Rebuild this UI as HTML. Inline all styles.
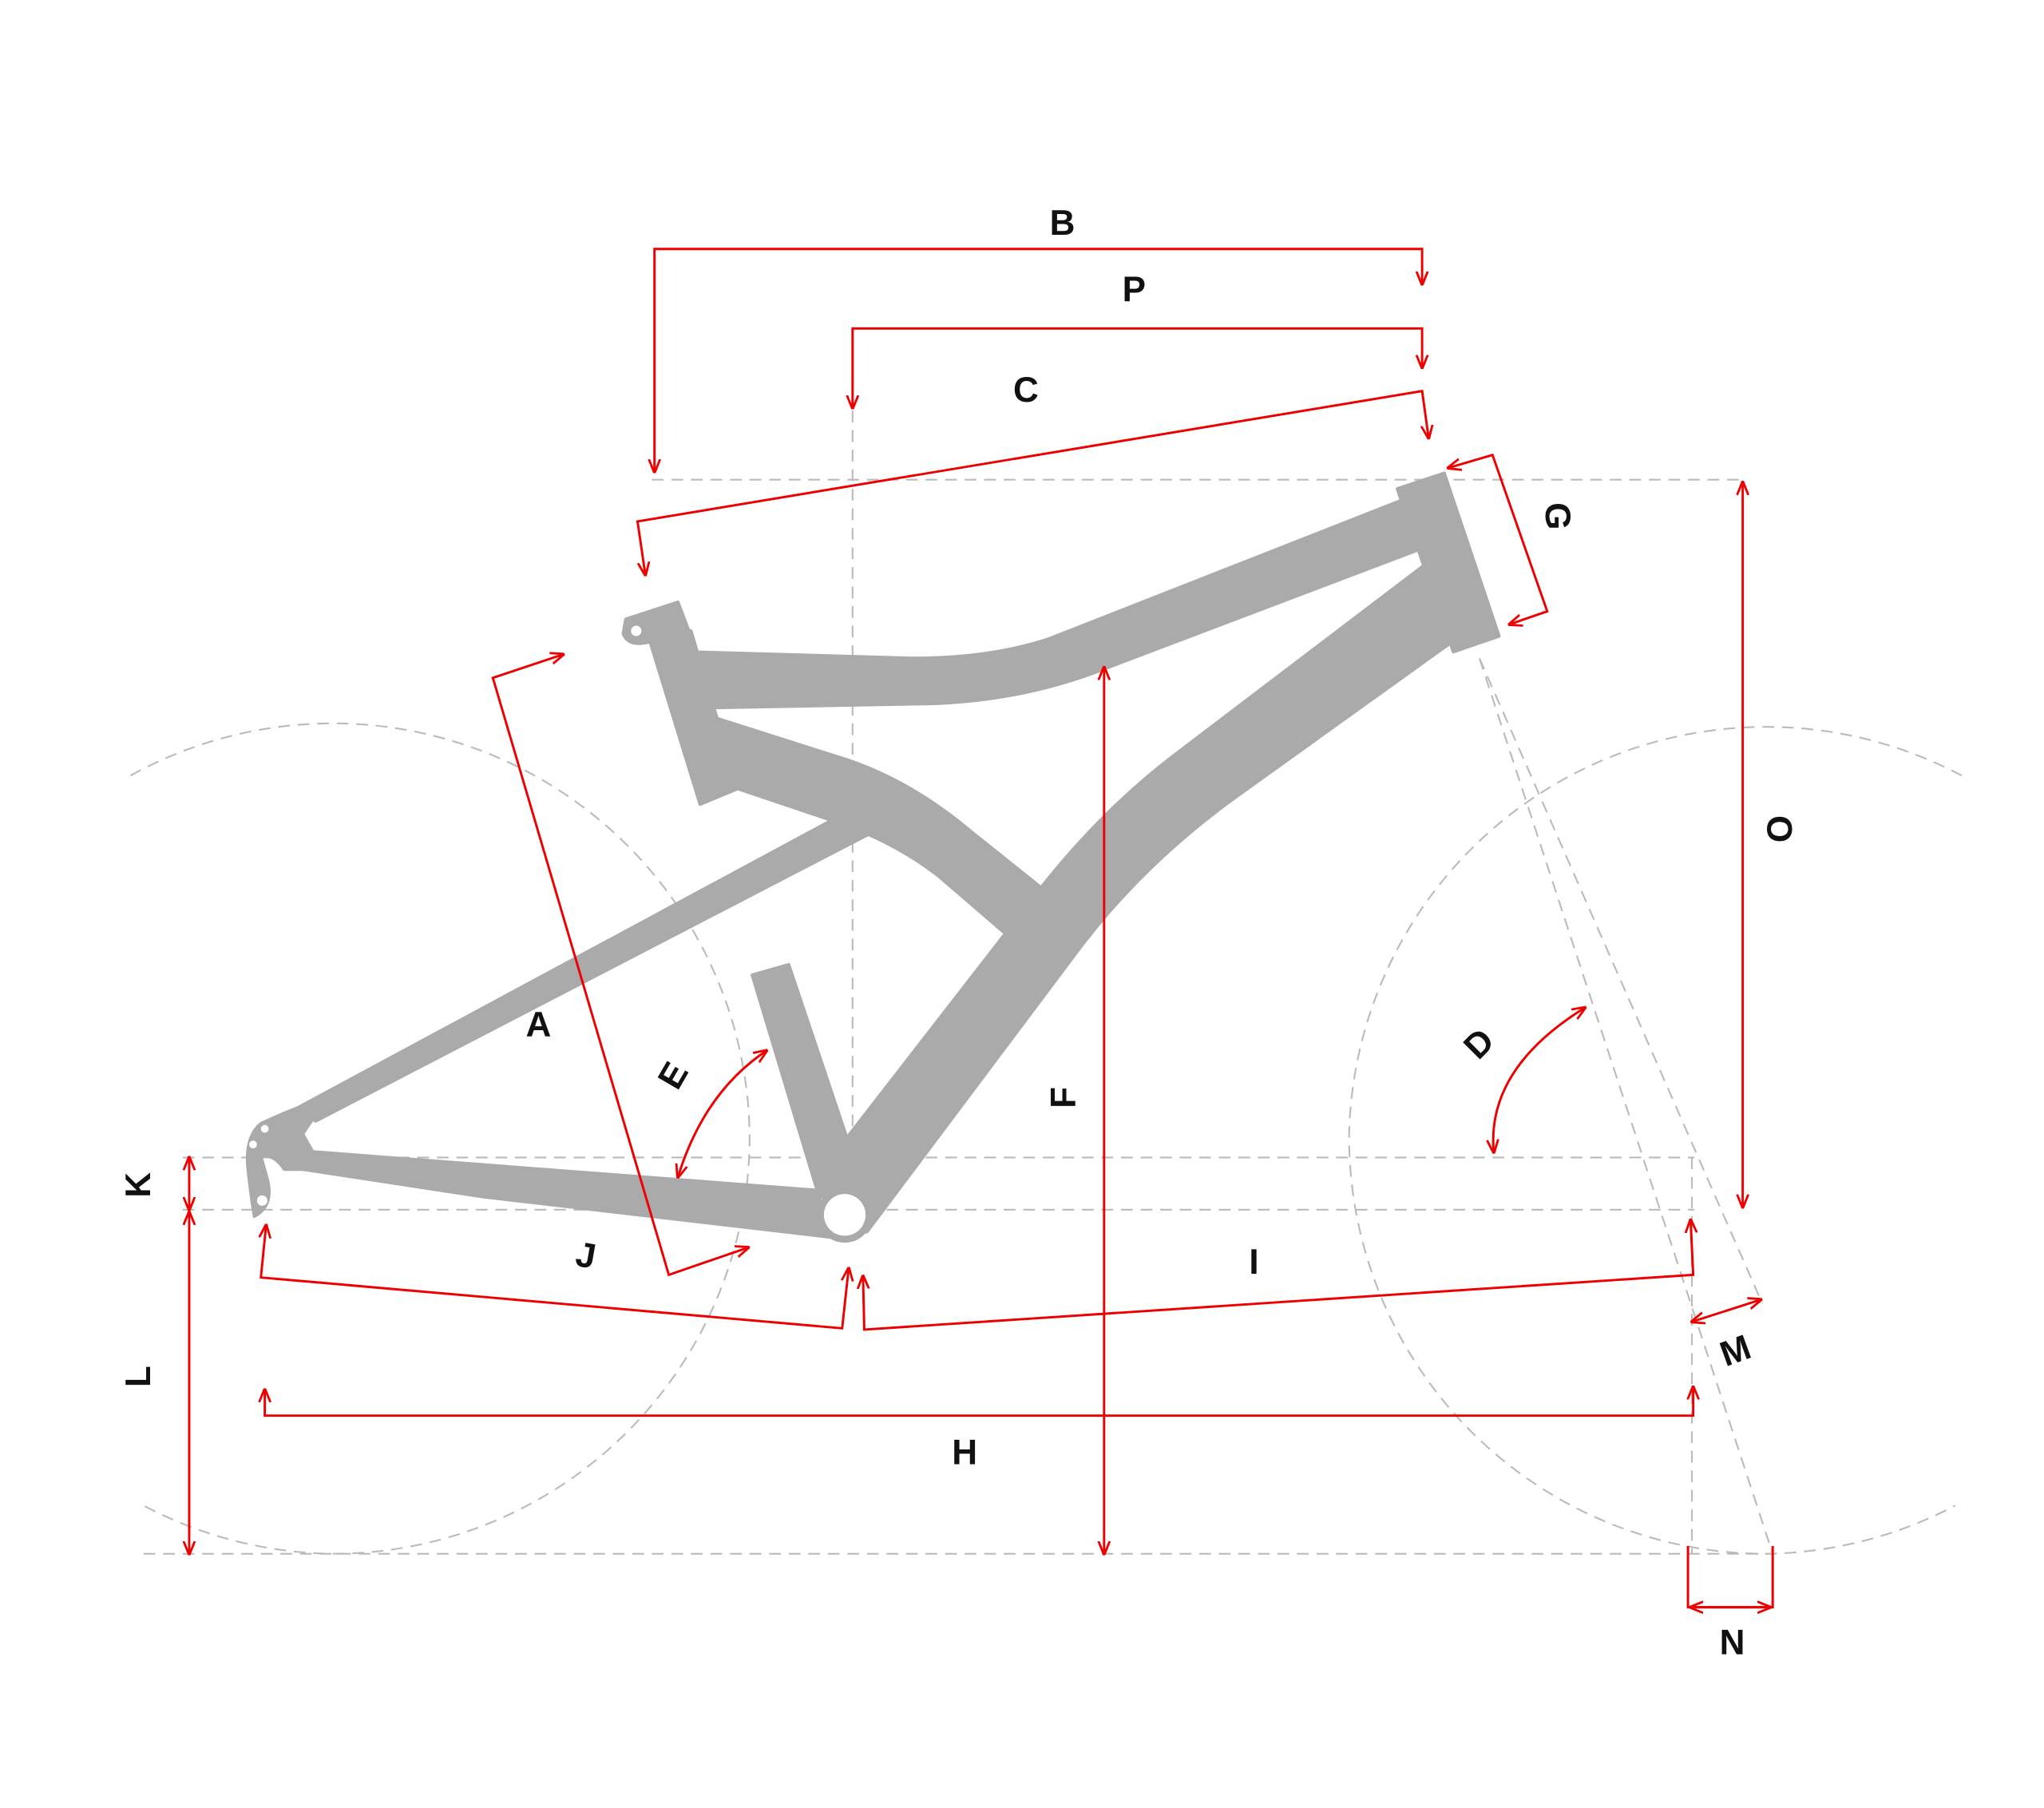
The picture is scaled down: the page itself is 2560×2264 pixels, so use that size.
<!DOCTYPE html>
<html><head><meta charset="utf-8"><style>
html,body{margin:0;padding:0;background:#fff;}
svg{display:block;}
text{font-family:"Liberation Sans",sans-serif;font-weight:bold;font-size:27px;fill:#111;text-anchor:middle;dominant-baseline:middle;}
</style></head><body>
<svg width="2560" height="2264" viewBox="0 0 1568 1387" xmlns="http://www.w3.org/2000/svg">
<defs>
<marker id="a" viewBox="0 0 10 10" refX="9" refY="5" markerWidth="6" markerHeight="6" orient="auto-start-reverse"><path d="M0,1 L10,5 L0,9" fill="none" stroke="#e00" stroke-width="1.6"/></marker>
</defs>
<g fill="none" stroke="#bbb" stroke-width="1.3" stroke-dasharray="9,6">
<path d="M100,595 A320,320 0 0 1 575,870 A320,320 0 0 1 255,1192 A320,320 0 0 1 110,1155"/>
<path d="M1505,595 A320,320 0 0 0 1035,870 A320,320 0 0 0 1352,1192 A320,320 0 0 0 1500,1155"/>
<line x1="500" y1="368" x2="1338" y2="368"/>
<line x1="140" y1="888" x2="1300" y2="888"/>
<line x1="140" y1="928" x2="1300" y2="928"/>
<line x1="110" y1="1192" x2="1362" y2="1192"/>
<line x1="654" y1="255" x2="654" y2="935"/>
<line x1="1298" y1="888" x2="1298" y2="1192"/>
<line x1="1135" y1="505" x2="1360" y2="1192"/>
<line x1="1135" y1="505" x2="1352" y2="1000"/>
</g>
<g fill="#aaa" stroke="#aaa" stroke-width="2.5" stroke-linejoin="round">
<path d="M525,500 L700,505 Q760,505 805,490 L1085,380 L1098,418 L850,512 Q780,540 700,540 L540,543 Z"/>
<path d="M1072,375 L1108,363 L1150,488 L1115,500 Z"/>
<path d="M1100,428 L900,580 Q845,622 797,683 L648,875 L650,945 L665,945 L830,725 Q880,660 950,610 L1120,488 Z"/>
<path d="M540,548 L650,583 Q700,600 745,638 L810,690 L785,728 L720,672 Q685,645 640,630 L560,603 Z"/>
<path d="M646,625 L672,637 L242,860 L228,850 Z"/>
<path d="M232,883 L625,913 L645,950 L370,918 L232,897 Z"/>
<path d="M577,748 L605,740 L652,880 L645,925 L628,917 Z"/>
<path d="M497,487 L530,484 L566,605 L537,617 Z"/>
<path d="M480,475 L520,462 L528,483 L500,492 Q482,497 478,486 Z"/>
<path d="M228,850 L240,858 L232,870 L240,884 L240,897 L218,897 Q210,885 200,887 L205,905 Q210,925 195,933 Q192,915 190,895 Q188,872 200,862 Q215,855 228,850 Z"/>
<circle cx="648" cy="932" r="20"/>
</g>
<circle cx="648" cy="932" r="16" fill="#fff"/>
<circle cx="488" cy="484" r="4" fill="#fff"/>
<circle cx="201" cy="921" r="4" fill="#fff"/>
<circle cx="203" cy="866" r="3" fill="#fff"/>
<circle cx="194" cy="878" r="3" fill="#fff"/>
<g fill="none" stroke="#e00" stroke-width="1.8">
<path d="M502,362 L502,191 L1091,191 L1091,218" marker-start="url(#a)" marker-end="url(#a)"/>
<path d="M654,313 L654,252 L1091,252 L1091,282" marker-start="url(#a)" marker-end="url(#a)"/>
<path d="M495,441 L489,400 L1091,300 L1096,336" marker-start="url(#a)" marker-end="url(#a)"/>
<path d="M1111,359 L1145,349 L1187,469 L1158,479" marker-start="url(#a)" marker-end="url(#a)"/>
<path d="M432,502 L378,520 L513,978 L574,957" marker-start="url(#a)" marker-end="url(#a)"/>
<path d="M1337,370 L1337,926" marker-start="url(#a)" marker-end="url(#a)"/>
<path d="M847,512 L847,1192" marker-start="url(#a)" marker-end="url(#a)"/>
<path d="M204,940 L200,980 L646,1019 L651,973" marker-start="url(#a)" marker-end="url(#a)"/>
<path d="M662,979 L663,1020 L1299,978 L1297,936" marker-start="url(#a)" marker-end="url(#a)"/>
<path d="M203,1066 L203,1086 L1299,1086 L1299,1064" marker-start="url(#a)" marker-end="url(#a)"/>
<path d="M145,888 L145,928" marker-start="url(#a)" marker-end="url(#a)"/>
<path d="M145,930 L145,1192" marker-start="url(#a)" marker-end="url(#a)"/>
<path d="M1298,1014 L1351,997" marker-start="url(#a)" marker-end="url(#a)"/>
<path d="M1295,1186 L1295,1233 L1360,1233 L1360,1186"/>
<path d="M1297,1233 L1358,1233" marker-start="url(#a)" marker-end="url(#a)"/>
<path d="M520,903 Q540,838 588,806" marker-start="url(#a)" marker-end="url(#a)"/>
<path d="M1146,884 Q1140,820 1216,773" marker-start="url(#a)" marker-end="url(#a)"/>
</g>
<text x="815" y="173">B</text>
<text x="870" y="224">P</text>
<text x="787" y="301">C</text>
<text x="1193" y="396" transform="rotate(90 1193 396)">G</text>
<text x="1363" y="636" transform="rotate(90 1363 636)">O</text>
<text x="413" y="788">A</text>
<text x="518" y="826" transform="rotate(-60 518 826)">E</text>
<text x="818" y="842" transform="rotate(-90 818 842)">F</text>
<text x="1136" y="802" transform="rotate(-45 1136 802)">D</text>
<text x="108" y="909" transform="rotate(-90 108 909)">K</text>
<text x="449" y="965" transform="rotate(10 449 965)">J</text>
<text x="962" y="970">I</text>
<text x="1332" y="1038" transform="rotate(-20 1332 1038)">M</text>
<text x="108" y="1056" transform="rotate(-90 108 1056)">L</text>
<text x="740" y="1116">H</text>
<text x="1329" y="1262">N</text>
</svg>
</body></html>
